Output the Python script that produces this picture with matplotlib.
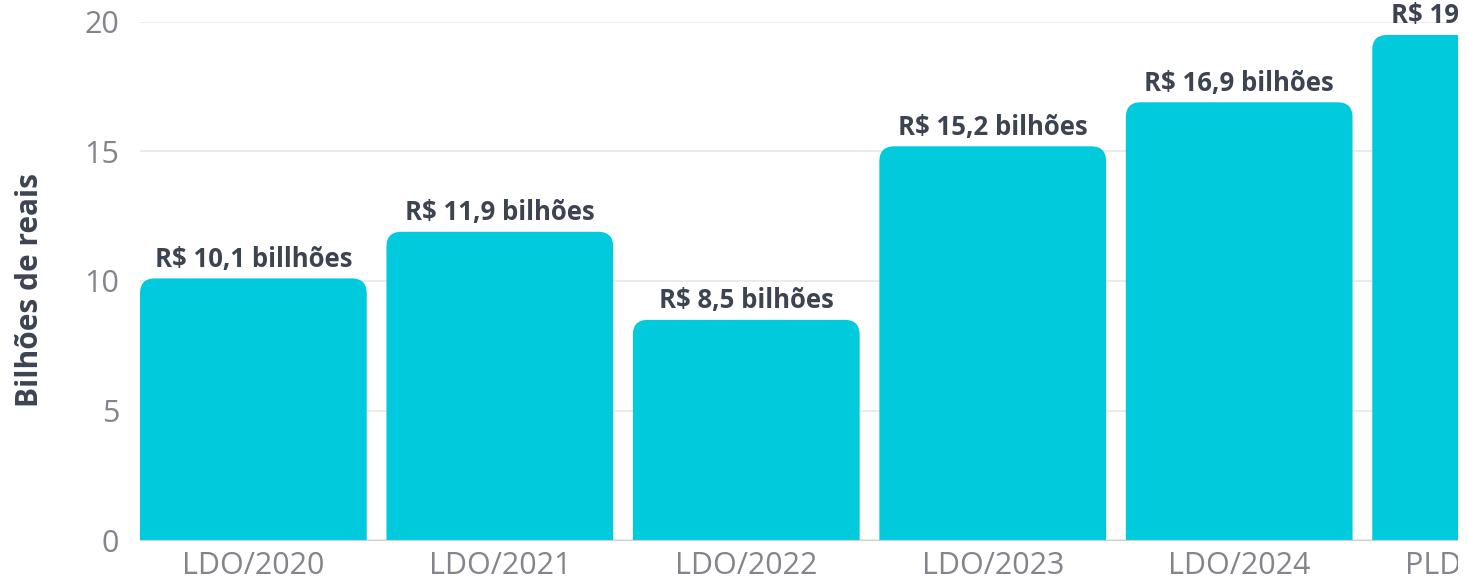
import matplotlib
matplotlib.use("Agg")
import matplotlib.pyplot as plt
from matplotlib.patches import FancyBboxPatch, Rectangle

categories = ["LDO/2020", "LDO/2021", "LDO/2022", "LDO/2023", "LDO/2024", "PLDO/2025"]
values = [10.1, 11.9, 8.5, 15.2, 16.9, 19.5]
labels = ["R$ 10,1 billhões", "R$ 11,9 bilhões", "R$ 8,5 bilhões",
          "R$ 15,2 bilhões", "R$ 16,9 bilhões", "R$ 19,5 bilhões"]

plt.rcParams['font.family'] = ['Open Sans', 'DejaVu Sans']

BAR = "#00CADC"
W, H = 1467, 586
fig = plt.figure(figsize=(W / 100, H / 100), dpi=100)
# axes run off the right side of the figure (cropped chart)
ax = fig.add_axes([140 / W, 46 / H, 1459 / W, 518 / H])

width = 0.92
bars = ax.bar(range(len(values)), values, width=width, color=BAR, zorder=2)

# rounded top corners: rounded box starting below 0, clipped by the axes
rx = 0.06
ry = 0.58
for rect in bars:
    x0, w, h = rect.get_x(), rect.get_width(), rect.get_height()
    rect.set_visible(False)
    p = FancyBboxPatch((x0, -2), w, h + 2,
                       boxstyle=f"round,pad=0,rounding_size={rx}",
                       mutation_aspect=ry / rx,
                       fc=BAR, ec="none", zorder=2)
    ax.add_patch(p)

for i, (v, t) in enumerate(zip(values, labels)):
    ax.annotate(t, (i, v), xytext=(0, 4), textcoords="offset points",
                ha="center", va="bottom", fontsize=18.5, fontweight="bold",
                color="#3d4451", annotation_clip=False)

ax.set_xlim(-0.46, len(values) - 0.54)
ax.set_ylim(0, 20)
ax.set_yticks([0, 5, 10, 15, 20])
ax.set_xticks(range(len(categories)))
ax.set_xticklabels(categories)
ax.tick_params(axis="both", length=0, labelsize=22, colors="#84848c")
ax.tick_params(axis="y", pad=15)
ax.tick_params(axis="x", pad=8)
ax.grid(axis="y", color="#e8e8e8", linewidth=1.2, zorder=0)
for s in ["top", "right", "left"]:
    ax.spines[s].set_visible(False)
ax.spines["bottom"].set_color("#d0d0d0")
ax.spines["bottom"].set_zorder(3)

fig.text(30 / W, 0.505, "Bilhões de reais", rotation=90, ha="center", va="center",
         fontsize=21.5, fontweight="bold", color="#3d4451")

# white strip at the right edge, as in the cropped original
fig.patches.append(Rectangle((1458 / W, 0), 1, 1, transform=fig.transFigure,
                             fc="white", ec="none", zorder=10))

fig.savefig("out.png", dpi=100)
